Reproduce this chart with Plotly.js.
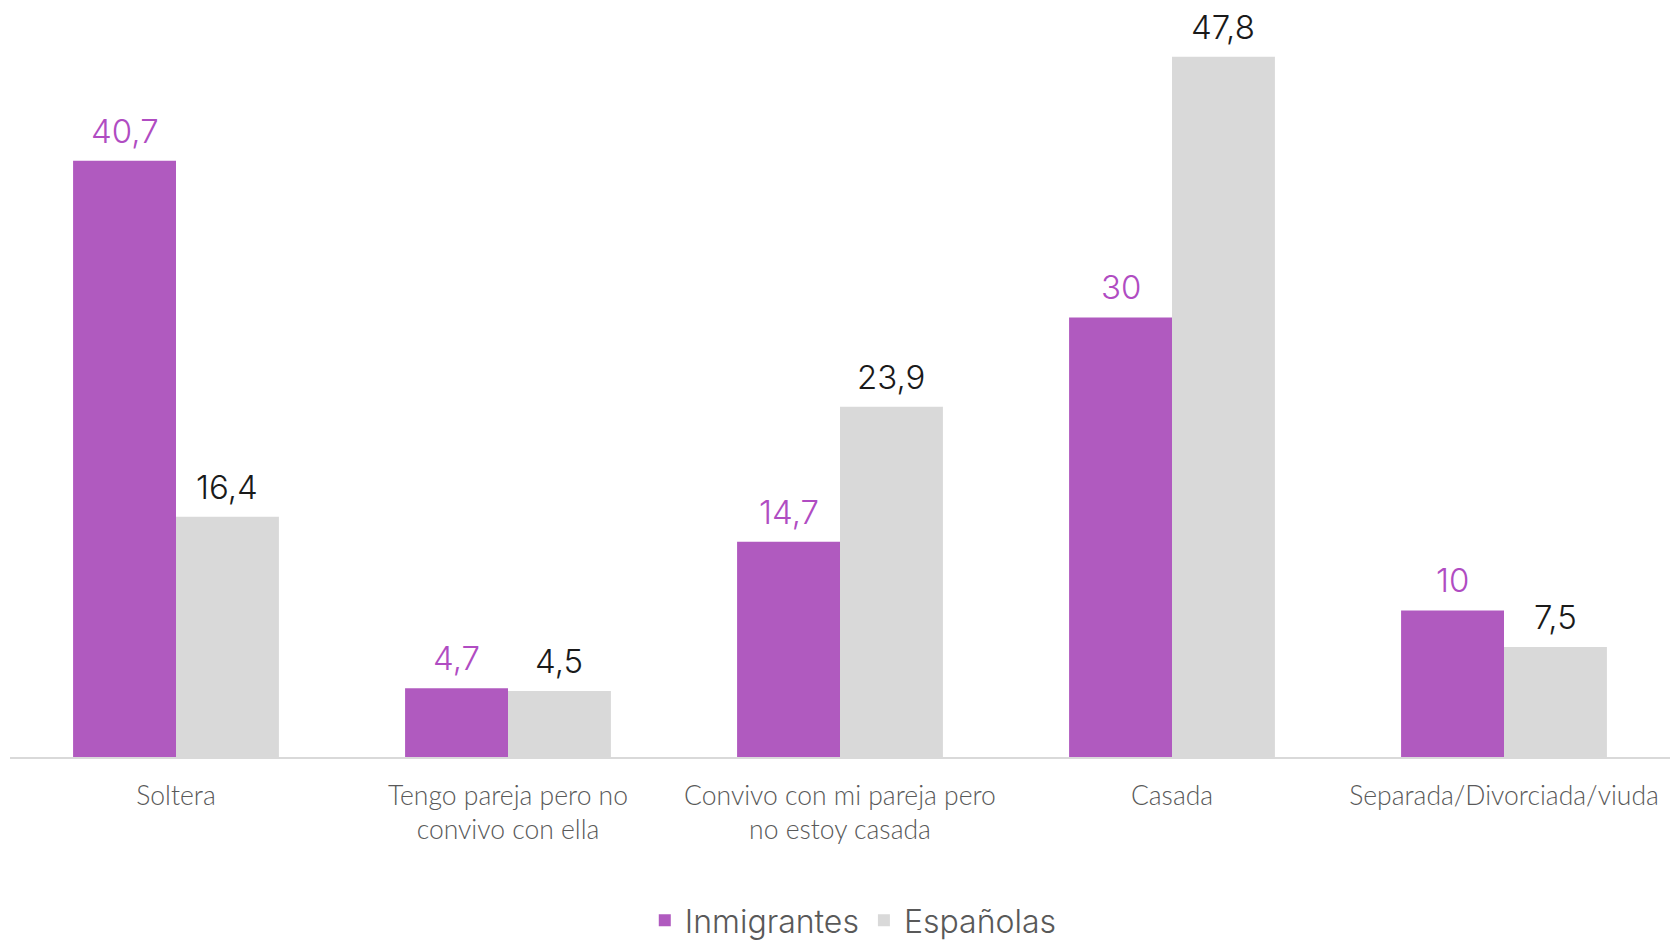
<!DOCTYPE html>
<html>
<head>
<meta charset="utf-8">
<script src="https://cdn.plot.ly/plotly-3.0.1.min.js"></script>
<style>html,body{margin:0;padding:0;background:#fff;}#chart{width:1680px;height:942px;}</style>
</head>
<body>
<div id="chart"></div>
<script>
const categories = ["Soltera", "Tengo pareja pero no<br>convivo con ella", "Convivo con mi pareja pero<br>no estoy casada", "Casada", "Separada/Divorciada/viuda"];
const seriesNames = ["Inmigrantes", "Españolas"];
const inmigrantes = [40.7, 4.7, 14.7, 30, 10];
const espanolas = [16.4, 4.5, 23.9, 47.8, 7.5];

const purple = "#b05abf";
const grey = "#d9d9d9";
const fmt = v => String(v).replace(".", ",");

const traces = [
  {type: "bar", name: seriesNames[0], x: categories, y: inmigrantes, marker: {color: purple}, hoverinfo: "none"},
  {type: "bar", name: seriesNames[1], x: categories, y: espanolas, marker: {color: grey}, hoverinfo: "none"}
];

const labelFont = "Inter, 'Open Sans', sans-serif";
const annotations = [];
const off = 0.155;
categories.forEach((c, i) => {
  annotations.push({x: i - off, y: inmigrantes[i], xref: "x", yref: "y", text: fmt(inmigrantes[i]), showarrow: false,
    yanchor: "bottom", yshift: 8, font: {family: labelFont, size: 33, color: "#b04cc2", weight: 300}});
  annotations.push({x: i + off, y: espanolas[i], xref: "x", yref: "y", text: fmt(espanolas[i]), showarrow: false,
    yanchor: "bottom", yshift: 8, font: {family: labelFont, size: 33, color: "#1a1a1a", weight: 300}});
});

const layout = {
  width: 1680, height: 942,
  margin: {l: 10, r: 10, t: 40, b: 185, autoexpand: false},
  paper_bgcolor: "#fff", plot_bgcolor: "#fff",
  barmode: "group", bargap: 0.38, bargroupgap: 0,
  showlegend: true,
  legend: {orientation: "h", x: 0.508, xanchor: "center", y: -0.228, yanchor: "middle",
    font: {family: labelFont, size: 32, color: "#595959", weight: 300}, itemwidth: 30, traceorder: "normal"},
  xaxis: {type: "category", showline: true, linecolor: "#d9d9d9", linewidth: 2, showgrid: false, zeroline: false,
    ticks: "", ticklabelstandoff: 14,
    tickfont: {family: "Lato, sans-serif", size: 26.5, color: "#595959", weight: 300}},
  yaxis: {range: [0, 48.94], visible: false, showgrid: false, zeroline: false, fixedrange: true},
  annotations: annotations
};

Plotly.newPlot("chart", traces, layout, {displayModeBar: false, staticPlot: true});
</script>
</body>
</html>
